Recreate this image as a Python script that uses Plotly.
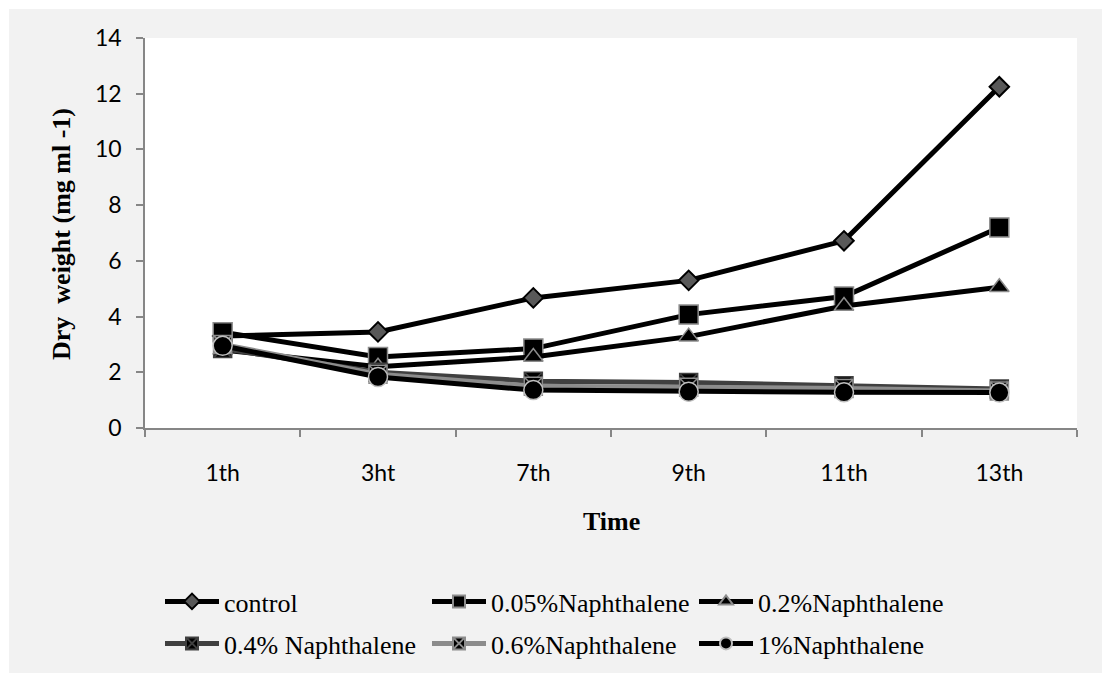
import plotly.graph_objects as go

categories = ["1th", "3ht", "7th", "9th", "11th", "13th"]

control = [3.3, 3.45, 4.67, 5.3, 6.72, 12.25]
naph_005 = [3.44, 2.55, 2.85, 4.07, 4.72, 7.2]
naph_02 = [2.8, 2.2, 2.55, 3.28, 4.38, 5.05]
naph_04 = [2.85, 2.0, 1.68, 1.63, 1.52, 1.4]
naph_06 = [3.0, 1.93, 1.5, 1.46, 1.42, 1.33]
naph_1 = [2.95, 1.83, 1.36, 1.3, 1.28, 1.27]

y_ticks = [0, 2, 4, 6, 8, 10, 12, 14]

W, H = 1102, 673
ML, MR, MT, MB = 145, 25, 38, 245
PW, PH = W - ML - MR, H - MT - MB


def px_x(p):
    return (p - ML) / PW


def px_y(p):
    return (H - MB - p) / PH


series = [
    ("control", control, "#000000", dict(symbol="diamond", size=15, color="#595959",
                                         line=dict(color="#000000", width=2)), "legend"),
    ("0.05%Naphthalene", naph_005, "#000000", dict(symbol="square", size=19, color="#000000",
                                                  line=dict(color="#8c8c8c", width=1.5)), "legend"),
    ("0.2%Naphthalene", naph_02, "#000000", dict(symbol="triangle-up", size=17, color="#000000",
                                                 line=dict(color="#8c8c8c", width=1.5)), "legend"),
    ("0.4% Naphthalene", naph_04, "#404040", dict(symbol="square-x", size=18, color="#000000",
                                                  line=dict(color="#404040", width=1.5)), "legend2"),
    ("0.6%Naphthalene", naph_06, "#8c8c8c", dict(symbol="square-x", size=18, color="#000000",
                                                 line=dict(color="#8c8c8c", width=1.5)), "legend2"),
    ("1%Naphthalene", naph_1, "#000000", dict(symbol="circle", size=19, color="#000000",
                                              line=dict(color="#bfbfbf", width=1.5)), "legend2"),
]

fig = go.Figure()
for name, vals, lc, mk, lg in series:
    fig.add_trace(go.Scatter(
        x=categories, y=vals, name=name, mode="lines+markers",
        line=dict(color=lc, width=5), marker=mk, legend=lg,
    ))

axis_col = "#868686"
tick_font = dict(family="Lato, Liberation Sans, sans-serif", size=23, color="#000000")
serif = "Liberation Serif, Times New Roman, serif"
legend_common = dict(
    orientation="h", xanchor="left", yanchor="top",
    bgcolor="rgba(0,0,0,0)", itemwidth=54, entrywidth=198, entrywidthmode="pixels",
    font=dict(family=serif, size=26, color="#000000"),
    traceorder="normal", itemsizing="constant",
)

fig.update_layout(
    width=W, height=H,
    margin=dict(l=ML, r=MR, t=MT, b=MB, autoexpand=False),
    paper_bgcolor="#f2f2f2",
    plot_bgcolor="#ffffff",
    showlegend=True,
    font=dict(family="Lato, Liberation Sans, sans-serif", size=22, color="#000000"),
    xaxis=dict(
        type="category", range=[-0.5, 5.5], tickson="boundaries",
        ticks="outside", ticklen=7, tickcolor=axis_col, tickwidth=1.5,
        showline=True, linecolor=axis_col, linewidth=1.5,
        showgrid=False, zeroline=False, ticklabelstandoff=24,
        tickfont=tick_font, automargin=False,
    ),
    yaxis=dict(
        range=[0, 14], tickvals=y_ticks, ticktext=[str(v) for v in y_ticks],
        ticks="outside", ticklen=7, tickcolor=axis_col, tickwidth=1.5,
        showline=True, linecolor=axis_col, linewidth=1.5,
        showgrid=False, zeroline=False, ticklabelstandoff=10,
        tickfont=tick_font, automargin=False,
    ),
    legend=dict(x=px_x(160), y=px_y(578), **legend_common),
    legend2=dict(x=px_x(160), y=px_y(620), **legend_common),
    annotations=[
        dict(text="<b>Time</b>", x=0.5, y=px_y(521), xref="paper", yref="paper",
             showarrow=False, xanchor="center", yanchor="middle",
             font=dict(family=serif, size=26)),
        dict(text="<b>Dry  weight (mg ml -1)</b>", x=px_x(61), y=px_y(234), xref="paper", yref="paper",
             showarrow=False, xanchor="center", yanchor="middle", textangle=-90,
             font=dict(family=serif, size=26)),
    ],
    shapes=[
        dict(type="rect", xref="paper", yref="paper", x0=px_x(-10), x1=px_x(W + 10),
             y0=px_y(9), y1=px_y(-10), fillcolor="#ffffff", line=dict(width=0), layer="below"),
        dict(type="rect", xref="paper", yref="paper", x0=px_x(-10), x1=px_x(9),
             y0=px_y(H + 10), y1=px_y(-10), fillcolor="#ffffff", line=dict(width=0), layer="below"),
    ],
)

fig.write_html(
    "out.html",
    post_script="document.body.style.margin='0';document.body.style.background='#f2f2f2';",
)
